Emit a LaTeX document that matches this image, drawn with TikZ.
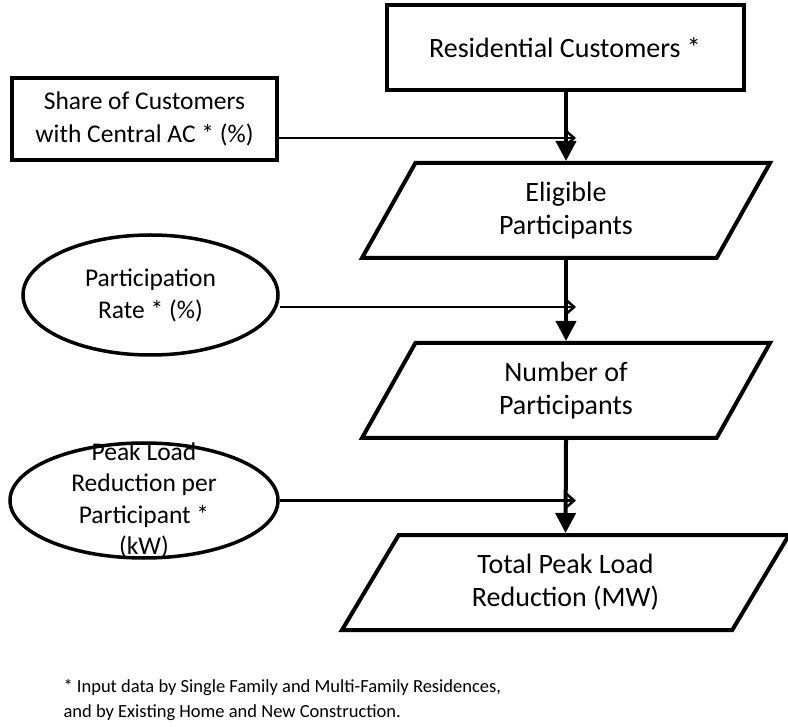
\documentclass[tikz,border=0pt]{standalone}
\usepackage{fontspec}
\setmainfont{Carlito}
\usetikzlibrary{shapes.geometric, arrows.meta, positioning, calc}
\tikzset{
    % Input boxes on the left and top
    input box/.style={
        rectangle,
        draw=black,
        line width=4pt,
        align=center,
        font=\fontsize{28}{33}\selectfont
    },
    input oval/.style={
        ellipse,
        draw=black,
        line width=3.5pt,
        align=center,
        font=\fontsize{25.5}{32}\selectfont
    },
    % Computed quantities
    data box/.style={
        trapezium,
        trapezium left angle=50,
        trapezium right angle=130,
        trapezium stretches body,
        draw=black,
        line width=4pt,
        minimum width=408pt,
        minimum height=95pt,
        align=center,
        font=\fontsize{28}{33}\selectfont
    },
    flow arrow/.style={
        -{Triangle[length=20pt, width=20pt]},
        line width=4pt,
        black
    },
    feed arrow/.style={
        -{Straight Barb[length=8pt, width=14pt]},
        line width=2.5pt,
        black
    }
}

\begin{document}
\begin{tikzpicture}[x=1pt, y=1pt]
    \useasboundingbox (0,0) rectangle (788,-727);

    % Main chain
    \node[input box, minimum width=357pt, minimum height=85pt] (customers) at (565,-47.5) {Residential Customers *};
    \node[data box] (eligible) at (566,-210.5) {Eligible\\Participants};
    \node[data box] (number) at (566,-390.5) {Number of\\Participants};
    \node[data box, minimum width=447pt, trapezium left angle=48, trapezium right angle=132] (total) at (565.5,-582.5) {Total Peak Load\\Reduction (MW)};

    % Inputs
    \node[input box, minimum width=265pt, minimum height=82pt, font=\fontsize{25.5}{33}\selectfont] (share) at (144.5,-119) {Share of Customers\\with Central AC * (\%)};
    \node[input oval, minimum width=255pt, minimum height=120pt] (rate) at (150.5,-295) {Participation\\Rate * (\%)};
    \node[input oval, minimum width=268pt, minimum height=115pt] (peak) at (144,-500.5) {};
    \node[align=center, font=\fontsize{25.5}{31.5}\selectfont] (peaktext) at (peak.center) {Peak Load\\Reduction per\\Participant *\\(kW)};

    % Joins on the main line
    \coordinate (join) at ([xshift=10pt]eligible.north);
    \coordinate (shareout) at ([yshift=-19pt]share.east);
    \coordinate (rateout) at ([yshift=-12pt]rate.east);

    \draw[feed arrow] (shareout) -- (shareout -| join);
    \draw[feed arrow] (rateout) -- (rateout -| join);
    \draw[feed arrow] (peak.east) -- (peak.east -| join);

    \draw[flow arrow] (customers.south -| eligible.north) -- (eligible.north);
    \draw[flow arrow] (eligible.south) -- (number.north);
    \draw[flow arrow] (number.south) -- (total.north);

    % Footnote
    \node[anchor=west, align=left, font=\fontsize{18.5}{25}\selectfont] (note) at (60,-700.5) {* Input data by Single Family and Multi-Family Residences,\\and by Existing Home and New Construction.};
\end{tikzpicture}
\end{document}
